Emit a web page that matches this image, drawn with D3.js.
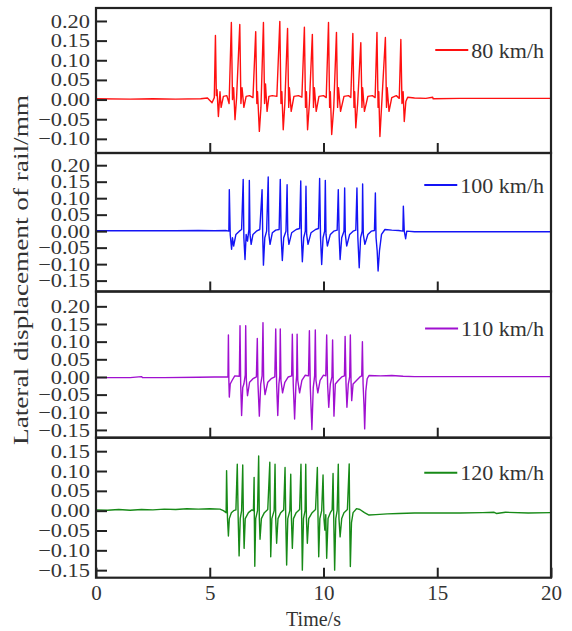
<!DOCTYPE html>
<html>
<head>
<meta charset="utf-8">
<script src="https://cdn.jsdelivr.net/npm/d3@7"></script>
<style>
  body { margin: 0; background: #fff; }
  svg { display: block; }
  svg text { font-family: "Liberation Serif", "Times New Roman", serif; }
</style>
</head>
<body>
<svg id="chart" width="572" height="631"></svg>
<script>
// speeds shown in the four panels
var speeds = ["80 km/h", "100 km/h", "110 km/h", "120 km/h"];
var colors = ["#ff1010", "#1414f5", "#a010d0", "#178a17"];

var xTicks = [0, 5, 10, 15, 20];
var yTicks = [
    [0.20, 0.15, 0.10, 0.05, 0, -0.05, -0.10],
    [0.20, 0.15, 0.10, 0.05, 0, -0.05, -0.10, -0.15],
    [0.20, 0.15, 0.10, 0.05, 0, -0.05, -0.10, -0.15],
    [0.15, 0.10, 0.05, 0, -0.05, -0.10, -0.15]
];
var yDomains = [[-0.136, 0.233], [-0.183, 0.237], [-0.172, 0.242], [-0.169, 0.184]];

// [time s, lateral displacement mm]
var s80 = [[0,0.002],[1.5,0.001],[2.5,0.002],[3.5,0.001],[4.6,0.002],[4.9,0.004],[5.1,-0.008],[5.2,0.005],
    [5.25,0.163],[5.29,0.01],[5.32,0.025],[5.38,-0.043],[5.45,0.02],[5.5,-0.02],[5.6,0.008],[5.75,0.01],[5.85,-0.01],
    [5.95,0.196],[6.0,0.0],[6.05,0.03],[6.11,-0.051],[6.18,0.005],
    [6.32,0.191],[6.37,-0.01],[6.42,0.03],[6.5,-0.02],[6.6,0.008],[6.75,0.01],[6.9,0.005],
    [7.02,0.173],[7.07,-0.01],[7.1,0.02],[7.18,-0.081],[7.25,-0.02],
    [7.36,0.196],[7.41,-0.01],[7.45,0.04],[7.52,-0.03],[7.6,0.008],[7.75,0.01],[7.95,0.008],
    [8.08,0.199],[8.13,-0.01],[8.17,0.02],[8.23,-0.077],[8.3,-0.01],
    [8.42,0.181],[8.47,-0.02],[8.5,0.03],[8.58,-0.03],[8.7,0.008],[8.9,0.01],[9.05,0.006],
    [9.16,0.184],[9.21,-0.02],[9.25,0.02],[9.30,-0.077],[9.38,-0.01],
    [9.51,0.166],[9.56,-0.02],[9.6,0.03],[9.68,-0.03],[9.8,0.008],[10.0,0.01],[10.12,0.005],
    [10.22,0.196],[10.27,-0.02],[10.3,0.02],[10.36,-0.089],[10.45,-0.02],
    [10.57,0.171],[10.62,-0.02],[10.66,0.03],[10.75,-0.03],[10.9,0.008],[11.1,0.01],[11.2,0.005],
    [11.29,0.168],[11.34,-0.02],[11.37,0.02],[11.42,-0.072],[11.5,-0.01],
    [11.64,0.145],[11.69,-0.02],[11.72,0.03],[11.8,-0.03],[11.95,0.008],[12.15,0.01],[12.27,0.005],
    [12.35,0.171],[12.4,-0.02],[12.43,0.02],[12.48,-0.094],[12.56,-0.01],
    [12.72,0.158],[12.77,-0.02],[12.8,0.03],[12.88,-0.03],[13.0,0.005],[13.2,0.01],[13.33,0.003],
    [13.40,0.153],[13.45,-0.01],[13.5,0.02],[13.55,-0.056],[13.62,-0.005],[13.7,0.006],[14.0,0.004],
    [14.5,0.003],[14.8,0.006],[14.82,0.002],[16,0.003],[18,0.003],[20,0.003]];

var s100 = [[0,0.001],[2,0.001],[3.5,0.001],[4.5,0.002],[5.2,0.001],[5.7,0.002],[5.84,0.0],
    [5.86,0.126],[5.9,-0.01],[5.96,-0.055],[6.0,-0.02],[6.05,-0.045],[6.15,-0.01],[6.3,0.0],[6.4,0.005],
    [6.47,0.157],[6.5,-0.02],[6.55,-0.086],[6.6,-0.01],[6.66,-0.03],[6.72,0.005],
    [6.74,0.154],[6.77,-0.01],[6.82,-0.04],[6.9,-0.01],[7.05,0.0],[7.2,0.005],
    [7.30,0.126],[7.33,-0.02],[7.36,-0.103],[7.42,-0.02],[7.5,0.0],
    [7.57,0.164],[7.6,-0.01],[7.65,-0.04],[7.75,-0.005],[7.9,0.003],[8.05,0.005],
    [8.10,0.157],[8.14,-0.02],[8.19,-0.089],[8.25,-0.02],[8.35,0.0],
    [8.40,0.141],[8.43,-0.01],[8.48,-0.04],[8.6,-0.005],[8.8,0.005],[8.95,0.008],
    [9.00,0.152],[9.03,-0.02],[9.07,-0.093],[9.13,-0.02],[9.2,0.0],
    [9.23,0.136],[9.26,-0.01],[9.32,-0.04],[9.45,-0.005],[9.65,0.005],[9.78,0.008],
    [9.83,0.16],[9.87,-0.02],[9.92,-0.101],[9.98,-0.02],[10.05,0.0],
    [10.08,0.154],[10.11,-0.01],[10.17,-0.045],[10.3,-0.01],[10.45,0.0],[10.6,0.003],
    [10.65,0.126],[10.69,-0.02],[10.73,-0.086],[10.8,-0.02],[10.9,0.0],
    [10.93,0.131],[10.96,-0.01],[11.02,-0.045],[11.15,-0.01],[11.3,0.0],[11.42,0.003],
    [11.47,0.131],[11.51,-0.02],[11.57,-0.111],[11.63,-0.02],[11.7,0.0],
    [11.72,0.143],[11.75,-0.01],[11.82,-0.04],[11.95,-0.01],[12.1,0.0],[12.24,0.002],
    [12.28,0.116],[12.31,-0.02],[12.36,-0.06],[12.40,-0.121],[12.46,-0.06],[12.55,-0.01],[12.7,0.005],
    [13.0,0.003],[13.3,0.002],[13.49,0.0],
    [13.51,0.076],[13.55,0.0],[13.61,-0.023],[13.66,0.0],[14.0,-0.002],[14.8,-0.002],[15.5,-0.002],[17,-0.002],[20,-0.002]];

var s110 = [[0,-0.002],[1.5,-0.002],[2,0.001],[2.05,-0.002],[3,-0.002],[4.5,-0.001],[5.2,0.0],[5.8,0.0],
    [5.82,0.119],[5.84,-0.01],[5.86,-0.057],[5.9,-0.02],[5.98,-0.01],[6.1,0.003],[6.3,0.002],
    [6.33,0.145],[6.36,-0.02],[6.40,-0.109],[6.45,-0.03],[6.5,-0.02],[6.56,0.005],
    [6.58,0.145],[6.61,-0.01],[6.66,-0.053],[6.75,-0.015],[6.9,-0.005],[7.05,0.0],
    [7.09,0.109],[7.12,-0.02],[7.18,-0.111],[7.24,-0.02],[7.3,0.003],
    [7.34,0.154],[7.37,-0.01],[7.43,-0.05],[7.55,-0.015],[7.7,-0.005],[7.86,0.0],
    [7.90,0.136],[7.94,-0.02],[7.99,-0.109],[8.04,-0.02],[8.08,0.003],
    [8.10,0.136],[8.13,-0.01],[8.2,-0.045],[8.3,-0.015],[8.45,0.0],[8.6,0.003],
    [8.63,0.121],[8.67,-0.02],[8.73,-0.119],[8.79,-0.02],[8.82,0.003],
    [8.84,0.121],[8.87,-0.01],[8.95,-0.045],[9.05,-0.01],[9.2,0.005],[9.34,0.003],
    [9.38,0.131],[9.42,-0.03],[9.49,-0.149],[9.55,-0.03],[9.61,0.003],
    [9.64,0.133],[9.67,-0.01],[9.75,-0.045],[9.85,-0.01],[10.0,0.005],[10.1,0.003],
    [10.14,0.119],[10.18,-0.02],[10.23,-0.086],[10.3,-0.02],[10.37,0.0],
    [10.40,0.105],[10.43,-0.02],[10.46,-0.111],[10.52,-0.02],[10.65,-0.01],[10.8,0.0],[10.92,0.003],
    [10.95,0.115],[10.99,-0.02],[11.03,-0.086],[11.09,-0.02],[11.15,0.0],
    [11.18,0.119],[11.21,-0.01],[11.24,-0.067],[11.3,-0.02],[11.45,-0.01],[11.6,0.0],[11.68,0.003],
    [11.71,0.1],[11.74,-0.02],[11.78,-0.08],[11.81,-0.147],[11.86,-0.04],[11.92,-0.005],[12.0,0.004],
    [12.5,0.003],[13,0.004],[13.5,0.002],[14,0.001],[16,0.001],[20,0.001]];

var s120 = [[0,0.002],[0.5,0.001],[1,0.003],[1.5,0.001],[2,0.003],[2.5,0.002],[3,0.004],[3.5,0.003],[4,0.005],
    [4.5,0.004],[5.0,0.005],[5.45,0.004],[5.6,0.0],[5.72,-0.005],
    [5.74,0.101],[5.78,-0.02],[5.82,-0.064],[5.86,-0.02],[5.95,-0.005],[6.05,0.0],[6.15,0.002],
    [6.21,0.117],[6.25,-0.02],[6.29,-0.114],[6.34,-0.02],[6.4,0.0],
    [6.45,0.115],[6.48,-0.02],[6.51,-0.095],[6.56,-0.02],[6.7,-0.005],[6.85,0.002],[6.92,0.0],
    [6.95,0.084],[6.96,-0.02],[6.98,-0.14],[7.02,-0.02],[7.1,0.0],
    [7.15,0.138],[7.18,-0.02],[7.21,-0.072],[7.27,-0.02],[7.4,-0.005],[7.55,0.003],
    [7.64,0.122],[7.66,-0.02],[7.68,-0.116],[7.73,-0.02],[7.83,0.0],
    [7.87,0.117],[7.9,-0.02],[7.94,-0.082],[8.0,-0.02],[8.12,-0.005],[8.25,0.002],
    [8.31,0.109],[8.34,-0.02],[8.38,-0.137],[8.43,-0.02],[8.52,0.0],
    [8.56,0.092],[8.59,-0.02],[8.63,-0.095],[8.68,-0.02],[8.8,-0.005],[8.95,0.003],
    [9.01,0.117],[9.04,-0.02],[9.07,-0.15],[9.12,-0.02],[9.19,0.0],
    [9.22,0.117],[9.25,-0.02],[9.29,-0.082],[9.35,-0.02],[9.5,-0.005],[9.65,0.003],
    [9.73,0.109],[9.76,-0.02],[9.79,-0.116],[9.84,-0.02],[9.92,0.0],
    [9.98,0.09],[10.02,-0.02],[10.06,-0.049],[10.1,-0.01],[10.14,-0.12],[10.2,-0.02],[10.3,-0.005],[10.38,0.002],
    [10.42,0.094],[10.45,-0.02],[10.49,-0.15],[10.54,-0.02],[10.6,0.0],
    [10.65,0.117],[10.68,-0.02],[10.73,-0.066],[10.8,-0.02],[10.9,-0.005],[11.05,0.003],
    [11.13,0.118],[11.15,-0.02],[11.18,-0.141],[11.23,-0.03],[11.3,-0.005],[11.45,0.005],[11.6,0.003],
    [11.8,-0.005],[12.0,-0.011],[12.3,-0.01],[12.8,-0.008],[13.3,-0.007],[14,-0.006],[15,-0.006],[16,-0.006],
    [17,-0.005],[17.5,-0.004],[17.6,-0.007],[18,-0.004],[19,-0.006],[20,-0.005]];

var series = [s80, s100, s110, s120];

// layout
var left = 96, right = 551;
var panelTops = [8, 153, 291.5, 437.7, 577.7];
var legendDy = [42, 32, 37, 35];
var serif = '"Liberation Serif", "Times New Roman", serif';

var svg = d3.select('#chart');
var x = d3.scaleLinear().domain([0, 20]).range([left, right]);
var fmt = d3.format('.2f');

series.forEach(function(data, i) {
    var top = panelTops[i], bottom = panelTops[i + 1];
    var y = d3.scaleLinear().domain(yDomains[i]).range([bottom, top]);
    var g = svg.append('g');

    g.append('clipPath').attr('id', 'clip' + i)
        .append('rect')
        .attr('x', left).attr('y', top)
        .attr('width', right - left).attr('height', bottom - top);

    g.append('path')
        .datum(data)
        .attr('clip-path', 'url(#clip' + i + ')')
        .attr('fill', 'none')
        .attr('stroke', colors[i])
        .attr('stroke-width', 1.4)
        .attr('stroke-linejoin', 'round')
        .attr('d', d3.line()
            .x(function(d) { return x(d[0]); })
            .y(function(d) { return y(d[1]); }));

    var ya = g.append('g')
        .attr('transform', 'translate(' + left + ',0)')
        .call(d3.axisLeft(y).tickValues(yTicks[i]).tickFormat(fmt)
            .tickSizeInner(-11).tickSizeOuter(0).tickPadding(6))
        .attr('font-family', serif);
    ya.select('.domain').remove();
    ya.selectAll('line').attr('stroke', '#222').attr('stroke-width', 2);
    ya.selectAll('text')
        .attr('x', 0)
        .attr('transform', 'translate(-6,0) scale(1.18,1)')
        .attr('fill', '#333')
        .style('font-size', '19px');

    var last = i === series.length - 1;
    var xa = g.append('g')
        .attr('transform', 'translate(0,' + bottom + ')')
        .call(d3.axisBottom(x).tickValues(last ? xTicks : xTicks.slice(1, 4))
            .tickFormat(last ? d3.format('d') : '')
            .tickSizeInner(-10).tickSizeOuter(0).tickPadding(7))
        .attr('font-family', serif);
    xa.select('.domain').remove();
    xa.selectAll('line').attr('stroke', '#222').attr('stroke-width', 2);
    xa.selectAll('text').attr('fill', '#333').style('font-size', '21px');

    g.append('rect')
        .attr('x', left).attr('y', top)
        .attr('width', right - left).attr('height', bottom - top)
        .attr('fill', 'none')
        .attr('stroke', '#222')
        .attr('stroke-width', 2.2);

    // legend
    var ly = top + legendDy[i];
    var lt = g.append('text')
        .attr('x', 544).attr('y', ly)
        .attr('dy', '0.35em')
        .attr('text-anchor', 'end')
        .attr('fill', '#333')
        .style('font-size', '22px')
        .text(speeds[i]);
    var w = lt.node().getComputedTextLength();
    g.append('line')
        .attr('x1', 544 - w - 36).attr('x2', 544 - w - 3)
        .attr('y1', ly).attr('y2', ly)
        .attr('stroke', colors[i])
        .attr('stroke-width', 2);
});

svg.append('text')
    .attr('x', (left + right) / 2 - 10).attr('y', 626)
    .attr('text-anchor', 'middle')
    .attr('fill', '#333')
    .style('font-size', '20px')
    .text('Time/s');

svg.append('text')
    .attr('transform', 'translate(28,270) rotate(-90)')
    .attr('text-anchor', 'middle')
    .attr('fill', '#333')
    .attr('textLength', 350)
    .attr('lengthAdjust', 'spacingAndGlyphs')
    .style('font-size', '21px')
    .text('Lateral displacement of rail/mm');
</script>
</body>
</html>
